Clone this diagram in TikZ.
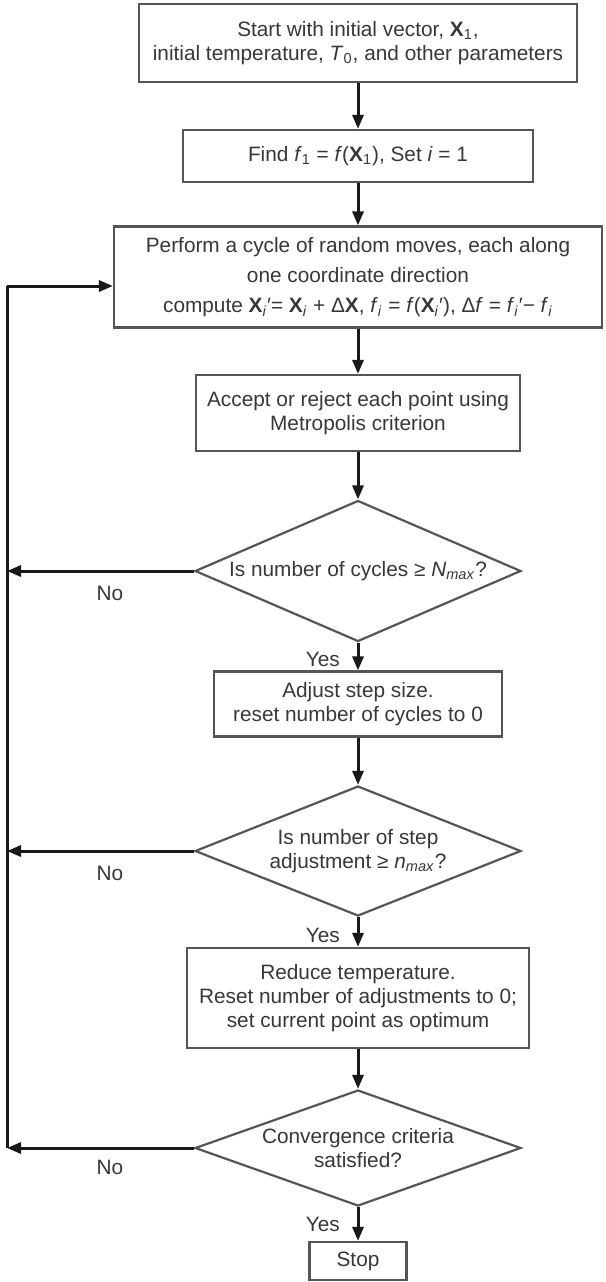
\documentclass[tikz,border=0pt]{standalone}
\usepackage{fontspec}
\setmainfont{Liberation Sans}
\usepackage{tikz}
\usetikzlibrary{shapes.geometric, arrows.meta, positioning, calc}
\definecolor{boxgray}{RGB}{85,85,85}
\definecolor{textgray}{RGB}{55,55,55}
\definecolor{linedark}{RGB}{25,25,25}
\tikzstyle{process} = [rectangle, draw=boxgray, line width=1.1pt, text=textgray, align=center, inner sep=0pt, font=\fontsize{10.4}{12}\selectfont]
\tikzstyle{decision} = [diamond, aspect=2.3, draw=boxgray, line width=1.1pt, text=textgray, align=center, inner sep=0pt, font=\fontsize{10.4}{12}\selectfont]
\tikzstyle{arrow} = [draw=linedark, line width=1.5pt, -{Triangle[length=7pt,width=5.5pt]}]
\tikzstyle{loopline} = [draw=linedark, line width=1.5pt]
\tikzstyle{answer} = [text=textgray, font=\fontsize{10.4}{12}\selectfont]
\newcommand{\vX}{\textbf{X}}
\newcommand{\primed}[1]{\textsubscript{#1}′}

\begin{document}
\begin{tikzpicture}[x=0.5pt, y=-0.5pt]
\useasboundingbox (0,0) rectangle (606,1282);

% ===== MAIN FLOW =====
\node (start) [process, minimum width=219pt, minimum height=39pt] at (358,43) {Start with initial vector, \vX\textsubscript{1},\\initial temperature, \textit{T}\textsubscript{0}, and other parameters};
\node (find) [process, minimum width=175pt, minimum height=26pt] at (358,156) {Find \textit{f}\textsubscript{1} = \textit{f}(\vX\textsubscript{1}), Set \textit{i} = 1};
\node (cycle) [process, minimum width=244pt, minimum height=50.5pt, font=\fontsize{10.4}{15}\selectfont] at (358,277) {Perform a cycle of random moves, each along\\one coordinate direction\\compute \vX\primed{\textit{i}}= \vX\textsubscript{\textit{i}} + Δ\vX, \textit{f}\textsubscript{\textit{i}} = \textit{f}(\vX\primed{\textit{i}}), Δ\textit{f} = \textit{f}\primed{\textit{i}}− \textit{f}\textsubscript{\textit{i}}};
\node (accept) [process, minimum width=162pt, minimum height=38pt] at (358,413) {Accept or reject each point using\\Metropolis criterion};

% ===== DECISIONS AND UPDATES =====
\node (cycdec) [decision, minimum width=163pt, minimum height=70.5pt] at (358,571) {Is number of cycles ≥ \textit{N}\textsubscript{\textit{max}}?};
\node (adjust) [process, minimum width=144pt, minimum height=32.5pt] at (358,704) {Adjust step size.\\reset number of cycles to 0};
\node (stepdec) [decision, minimum width=163pt, minimum height=65pt] at (358,851) {Is number of step\\adjustment ≥ \textit{n}\textsubscript{\textit{max}}?};
\node (reduce) [process, minimum width=171pt, minimum height=50pt] at (358,998) {Reduce temperature.\\Reset number of adjustments to 0;\\set current point as optimum};
\node (convdec) [decision, aspect=2.8, minimum width=163pt, minimum height=58pt] at (358,1148) {Convergence criteria\\satisfied?};
\node (stop) [process, minimum width=48.5pt, minimum height=19pt] at (358,1261) {Stop};

% ===== ARROWS =====
\draw [arrow] (start) -- (find);
\draw [arrow] (find) -- (cycle);
\draw [arrow] (cycle) -- (accept);
\draw [arrow] (accept) -- (cycdec);
\draw [arrow] (cycdec.south) -- (adjust.north) node [answer, pos=0.6, left=5pt] {Yes};
\draw [arrow] (adjust) -- (stepdec);
\draw [arrow] (stepdec.south) -- (reduce.north) node [answer, pos=0.6, left=5pt] {Yes};
\draw [arrow] (reduce) -- (convdec);
\draw [arrow] (convdec.south) -- (stop.north) node [answer, midway, left=5pt] {Yes};

% Return loop on the left
\coordinate (looptop) at (7,286);
\draw [loopline] (looptop |- convdec.west) -- (looptop);
\draw [arrow] (looptop) -- (looptop -| cycle.west);
\draw [arrow] (cycdec.west) -- (cycdec.west -| looptop) node [answer, pos=0.45, below=3.5pt] {No};
\draw [arrow] (stepdec.west) -- (stepdec.west -| looptop) node [answer, pos=0.45, below=3.5pt] {No};
\draw [arrow] (convdec.west) -- (convdec.west -| looptop) node [answer, pos=0.45, below=2pt] {No};

\end{tikzpicture}
\end{document}
